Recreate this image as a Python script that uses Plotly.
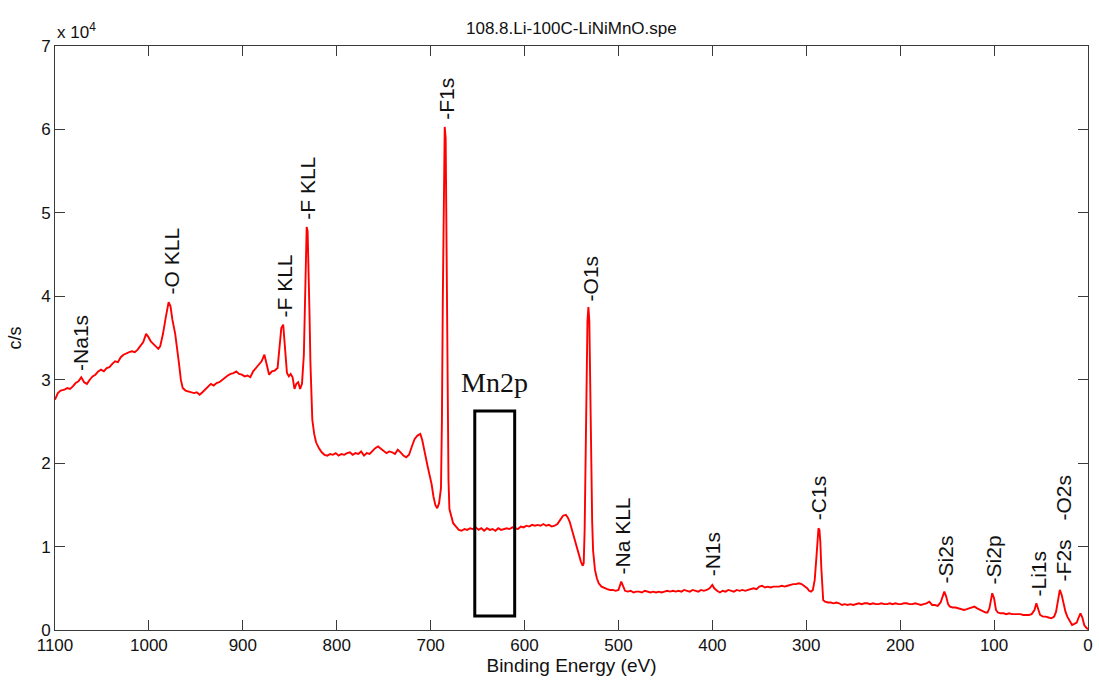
import plotly.graph_objects as go

# Binding energy (eV) and intensity (c/s, in units of 1e4)
energy = [1100,1097,1094,1090,1087,1084,1081,1078,1075,1072,1069,1066,1063,1060,1057,1054,1051,1048,1045,1042,
          1039,1036,1033,1030,1027,1024,1021,1018,1015,1012,1009,1006,1003,1001,998,995,992,990,988,985,
          982,979,977,975,972,970,968,966,964,961,958,955,952,949,946,943,940,937,934,931,
          928,925,922,919,916,913,910,907,904,901,898,895,892,889,886,883,880,877,875,872,
          869,866,863,861,859,857,855,853,851,849,847,845,843,841,839,837,835,834,833,832,
          831,830,829,828,827,826,824,822,819,816,813,810,807,804,801,798,795,792,789,786,
          783,780,777,774,771,768,765,762,759,756,753,750,747,744,741,738,735,732,729,726,
          723,720,717,714,711,709,707,705,703,701,699,697,695,693,691,689,688,687,686,685,
          684,683,682,681,680,678,676,673,670,667,664,661,658,655,652,649,646,643,640,637,
          634,631,628,625,622,619,616,613,610,607,604,601,598,595,592,589,586,583,580,577,
          574,571,568,565,562,559,556,554,552,550,548,546,544,542,540,538,537,536,535,534,
          533,532,531,530,529,528,527,525,523,521,518,515,512,509,506,503,500,497,495,493,
          490,487,484,481,478,475,472,469,466,463,460,457,454,451,448,445,442,439,436,433,
          430,427,424,421,418,415,412,409,406,403,400,398,395,392,389,386,383,380,377,374,
          371,368,365,362,359,356,353,350,347,344,341,338,335,332,329,326,323,320,317,314,
          311,308,305,302,299,297,295,293,291,289,288,287,286,285,284,283,282,280,277,274,
          271,268,265,262,259,256,253,250,247,244,241,238,235,232,229,226,223,220,217,214,
          211,208,205,202,199,196,193,190,187,184,181,178,175,172,169,166,163,160,157,155,
          153,151,149,147,144,141,138,135,132,129,126,123,121,118,115,112,109,107,105,103,
          102,100,98,96,93,90,87,84,81,78,75,72,69,66,63,60,57,55,53,51,
          48,45,42,39,36,34,32,30,28,26,24,22,19,17,15,12,10,8,6,4,2,0]
counts = [2.76,2.84,2.87,2.88,2.90,2.89,2.92,2.96,2.98,3.03,2.97,2.95,3.00,3.04,3.06,3.10,3.12,3.10,3.14,3.15,
          3.19,3.22,3.21,3.27,3.30,3.32,3.33,3.34,3.33,3.36,3.40,3.45,3.55,3.52,3.46,3.43,3.40,3.37,3.40,3.55,
          3.75,3.93,3.88,3.72,3.55,3.40,3.20,3.00,2.90,2.87,2.86,2.85,2.84,2.85,2.82,2.85,2.88,2.92,2.95,2.93,
          2.96,2.97,3.00,3.02,3.05,3.07,3.08,3.10,3.07,3.06,3.04,3.05,3.03,3.10,3.14,3.18,3.22,3.30,3.20,3.06,
          3.10,3.11,3.14,3.35,3.62,3.66,3.40,3.08,3.04,3.07,3.03,2.89,2.95,2.97,2.89,2.95,3.30,3.90,4.50,4.83,
          4.78,4.40,3.80,3.20,2.75,2.52,2.35,2.25,2.18,2.13,2.10,2.09,2.11,2.10,2.12,2.09,2.11,2.10,2.12,2.13,
          2.10,2.12,2.11,2.14,2.09,2.12,2.11,2.15,2.18,2.20,2.17,2.15,2.12,2.14,2.13,2.11,2.16,2.13,2.09,2.07,
          2.10,2.20,2.29,2.33,2.35,2.28,2.16,2.05,1.95,1.85,1.75,1.60,1.50,1.46,1.52,1.70,2.50,4.00,5.50,6.03,
          5.90,4.50,2.80,1.80,1.45,1.35,1.28,1.24,1.20,1.19,1.21,1.20,1.22,1.21,1.23,1.20,1.22,1.19,1.22,1.20,
          1.21,1.19,1.22,1.20,1.21,1.22,1.21,1.23,1.22,1.21,1.24,1.23,1.25,1.24,1.26,1.25,1.26,1.25,1.27,1.25,
          1.26,1.24,1.25,1.27,1.32,1.37,1.38,1.35,1.30,1.22,1.12,1.05,0.98,0.90,0.82,0.77,0.80,1.20,2.00,3.00,
          3.70,3.87,3.70,2.90,2.00,1.30,0.95,0.72,0.62,0.56,0.52,0.50,0.49,0.48,0.48,0.47,0.48,0.58,0.52,0.47,
          0.46,0.47,0.45,0.46,0.46,0.45,0.47,0.46,0.45,0.46,0.45,0.46,0.45,0.46,0.47,0.46,0.47,0.46,0.47,0.46,
          0.48,0.47,0.46,0.48,0.47,0.46,0.48,0.47,0.48,0.50,0.54,0.50,0.47,0.45,0.47,0.46,0.48,0.47,0.46,0.48,
          0.47,0.48,0.47,0.48,0.49,0.50,0.49,0.52,0.53,0.51,0.52,0.51,0.52,0.52,0.52,0.53,0.52,0.53,0.54,0.55,
          0.55,0.56,0.55,0.53,0.50,0.47,0.46,0.48,0.60,0.90,1.12,1.22,1.20,1.05,0.75,0.45,0.36,0.34,0.33,0.33,
          0.32,0.33,0.32,0.30,0.31,0.30,0.31,0.30,0.31,0.32,0.31,0.32,0.32,0.31,0.32,0.31,0.31,0.32,0.31,0.31,
          0.32,0.31,0.32,0.31,0.31,0.32,0.32,0.31,0.31,0.32,0.31,0.30,0.31,0.32,0.34,0.30,0.30,0.29,0.33,0.41,
          0.46,0.40,0.31,0.28,0.27,0.27,0.26,0.25,0.24,0.25,0.26,0.27,0.28,0.26,0.24,0.22,0.21,0.21,0.26,0.38,
          0.44,0.38,0.24,0.21,0.20,0.20,0.19,0.20,0.19,0.19,0.19,0.19,0.18,0.18,0.18,0.19,0.24,0.32,0.26,0.18,
          0.16,0.16,0.15,0.14,0.16,0.22,0.35,0.48,0.42,0.30,0.22,0.16,0.09,0.06,0.07,0.09,0.15,0.20,0.15,0.06,0.03,0.01]

# Peak labels
label_text = ["-Na1s", "-O KLL", "-F KLL", "-F KLL", "-F1s", "-O1s", "-Na KLL", "-N1s",
              "-C1s", "-Si2s", "-Si2p", "-Li1s", "-F2s", "-O2s"]
label_x = [1073.5, 975.8, 855.8, 831.4, 682.7, 529.8, 495.8, 400.3, 286.7, 151.8, 100.8, 53.0, 26.5, 26.5]
label_y = [3.08, 4.00, 3.72, 4.89, 6.09, 3.92, 0.64, 0.62, 1.29, 0.54, 0.52, 0.38, 0.56, 1.29]

x_ticks = [1100, 1000, 900, 800, 700, 600, 500, 400, 300, 200, 100, 0]
y_ticks = [0, 1, 2, 3, 4, 5, 6, 7]

# Mn2p highlight box
box_x = [653.0, 610.5]
box_y = [0.168, 2.625]
box_label = "Mn2p"

fig = go.Figure()
fig.add_trace(go.Scatter(x=energy, y=counts, mode="lines",
                         line=dict(color="#ff0000", width=1.9), showlegend=False))

axis_col = "#3a3a3a"
fig.update_xaxes(range=[1100, 0], autorange=False, tickvals=x_ticks,
                 ticktext=[str(v) for v in x_ticks],
                 ticks="inside", ticklen=10, tickcolor=axis_col, tickwidth=1,
                 showline=True, linecolor=axis_col, linewidth=1, mirror="ticks",
                 showgrid=False, zeroline=False,
                 tickfont=dict(family="Liberation Sans, Arial", size=17, color="#111"),
                 title=dict(text="Binding Energy (eV)", standoff=4,
                            font=dict(family="Liberation Sans, Arial", size=19, color="#111")))
fig.update_yaxes(range=[0, 7], autorange=False, tickvals=y_ticks,
                 ticktext=[str(v) for v in y_ticks],
                 ticks="inside", ticklen=10, tickcolor=axis_col, tickwidth=1,
                 showline=True, linecolor=axis_col, linewidth=1, mirror="ticks",
                 showgrid=False, zeroline=False,
                 tickfont=dict(family="Liberation Sans, Arial", size=17, color="#111"),
                 title=dict(text="c/s", standoff=14,
                            font=dict(family="Liberation Sans, Arial", size=18, color="#111")))

annotations = []
for t, x, y in zip(label_text, label_x, label_y):
    annotations.append(dict(x=x, y=y, xref="x", yref="y", text=t, textangle=-90,
                            showarrow=False, xanchor="center", yanchor="bottom",
                            font=dict(family="Liberation Sans, Arial", size=21, color="#111")))
annotations.append(dict(x=sum(box_x) / 2, y=2.97, xref="x", yref="y", text=box_label,
                        showarrow=False, xanchor="center", yanchor="middle",
                        font=dict(family="Liberation Serif, Times New Roman", size=28, color="#111")))
annotations.append(dict(x=0, y=1, xref="paper", yref="paper", text="x 10<sup>4</sup>",
                        showarrow=False, xanchor="left", yanchor="bottom", yshift=2,
                        font=dict(family="Liberation Sans, Arial", size=17, color="#111")))
annotations.append(dict(x=0.5, y=1, xref="paper", yref="paper", text="108.8.Li-100C-LiNiMnO.spe",
                        showarrow=False, xanchor="center", yanchor="bottom", yshift=6,
                        font=dict(family="Liberation Sans, Arial", size=17, color="#111")))

fig.add_shape(type="rect", xref="x", yref="y", x0=box_x[0], x1=box_x[1], y0=box_y[0], y1=box_y[1],
              line=dict(color="black", width=3), fillcolor="rgba(0,0,0,0)")

fig.update_layout(width=1099, height=681, margin=dict(l=55, r=6, t=46, b=51),
                  plot_bgcolor="white", paper_bgcolor="white", annotations=annotations)

fig.write_html("out.html")
